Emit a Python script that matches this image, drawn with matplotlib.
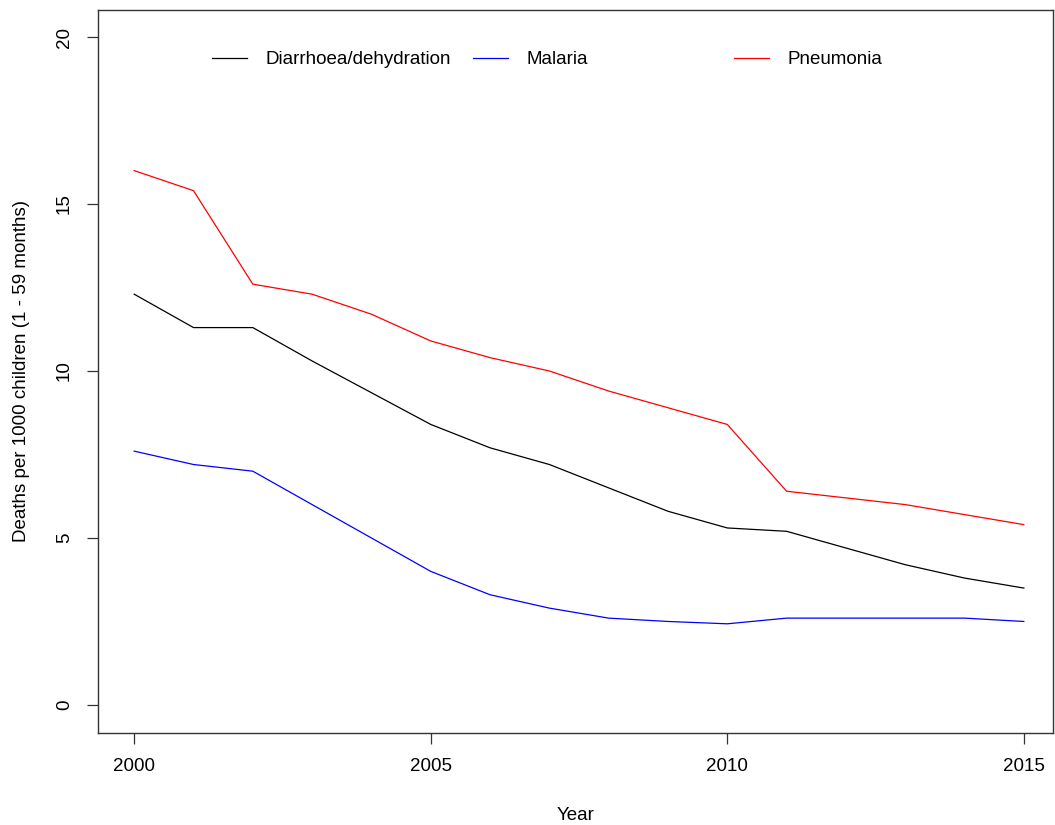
import matplotlib
matplotlib.use("Agg")
import matplotlib.pyplot as plt
from matplotlib.lines import Line2D
from matplotlib.legend import Legend

plt.rcParams['font.family'] = ['Liberation Sans', 'DejaVu Sans']

years = list(range(2000, 2016))
diarrhoea = [12.3, 11.3, 11.3, 10.3, 9.35, 8.4, 7.7, 7.2, 6.5, 5.8, 5.3, 5.2, 4.7, 4.2, 3.8, 3.5]
malaria = [7.6, 7.2, 7.0, 6.0, 5.0, 4.0, 3.3, 2.9, 2.6, 2.5, 2.43, 2.6, 2.6, 2.6, 2.6, 2.5]
pneumonia = [16.0, 15.4, 12.6, 12.3, 11.7, 10.9, 10.4, 10.0, 9.4, 8.9, 8.4, 6.4, 6.2, 6.0, 5.7, 5.4]

series = [
    ("Diarrhoea/dehydration", diarrhoea, "black", 0.1194),
    ("Malaria", malaria, "blue", 0.3927),
    ("Pneumonia", pneumonia, "red", 0.666),
]

FS = 13.5

fig = plt.figure(figsize=(10.55, 8.25), dpi=100)
ax = fig.add_axes([0.0929, 0.1115, 0.9051, 0.8764])

for name, vals, col, _ in series:
    ax.plot(years, vals, color=col, lw=0.9)

ax.set_xlim(1999.39, 2015.49)
ax.set_ylim(-0.84, 20.81)
ax.set_xticks([2000, 2005, 2010, 2015])
ax.set_yticks([0, 5, 10, 15, 20])
ax.tick_params(direction='out', length=8, width=0.9, colors='#333333',
               labelcolor='black', labelsize=FS, pad=10)
for lab in ax.get_yticklabels():
    lab.set_rotation(90)
    lab.set_va('center')
for sp in ax.spines.values():
    sp.set_color('#333333')
    sp.set_linewidth(1.0)

ax.set_xlabel("Year", fontsize=FS, labelpad=23)
ax.set_ylabel("Deaths per 1000 children (1 - 59 months)", fontsize=FS, labelpad=19)

# R-style horizontal legend: one box per entry, equal spacing
for name, vals, col, xpos in series:
    leg = Legend(ax, [Line2D([], [], color=col, lw=0.9)], [name],
                 loc='center left', bbox_to_anchor=(xpos, 0.931),
                 frameon=False, fontsize=FS, handlelength=1.88,
                 handletextpad=0.97, borderaxespad=0, borderpad=0)
    ax.add_artist(leg)

plt.savefig("out.png", dpi=100)
